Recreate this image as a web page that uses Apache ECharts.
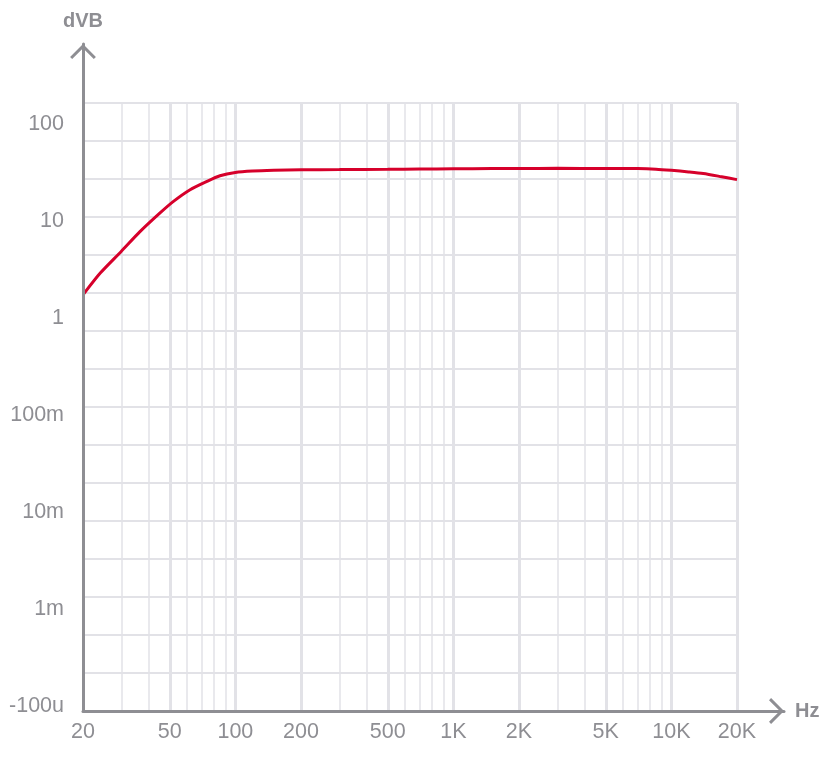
<!DOCTYPE html>
<html>
<head>
<meta charset="utf-8">
<script src="https://cdn.jsdelivr.net/npm/echarts@6/dist/echarts.min.js"></script>
<style>
html,body{margin:0;padding:0;background:#ffffff;}
#chart{width:838px;height:765px;}
</style>
</head>
<body>
<div id="chart"></div>
<script>
// ---- data ----
const freqHz  = [20, 24, 30, 36.5, 45, 52, 62, 74, 85, 100, 120, 150, 200, 300, 500, 700, 1000, 1500, 2000, 3000, 5000, 7000, 8500, 10000, 12000, 14000, 17000, 20000];
const gainDVB = [1.74, 2.92, 4.9, 7.8, 12.1, 16.0, 21.1, 25.7, 29.4, 31.8, 32.9, 33.5, 33.9, 34.0, 34.2, 34.4, 34.6, 34.8, 34.9, 35.0, 34.9, 34.8, 34.3, 33.4, 32.2, 31.0, 28.7, 26.8];

const yTickValues = [1e-4, 1e-3, 1e-2, 1e-1, 1, 10, 100];
const yTickLabels = ['-100u', '1m', '10m', '100m', '1', '10', '100'];

const xMajorValues = [20, 50, 100, 200, 500, 1000, 2000, 5000, 10000, 20000];
const xMajorLabels = ['20', '50', '100', '200', '500', '1K', '2K', '5K', '10K', '20K'];
const xMinorValues = [30, 40, 60, 70, 80, 90, 300, 400, 600, 700, 800, 900, 3000, 4000, 6000, 7000, 8000, 9000];

const hGridSteps = 16;
const xRange = [20, 20000];
const yRange = [9e-5, 165];

// ---- styles ----
const GRAY = '#8e8e93';
const GRID = '#e2e2e7';
const RED = '#d6002b';
const FONT = '"Liberation Sans", Arial, Helvetica, sans-serif';
const CHEVRON = 'path://M0,13L13,0L26,13L23.9,15.1L13,4.2L2.1,15.1Z';

const chart = echarts.init(document.getElementById('chart'), null, {renderer: 'canvas'});

const markItems = [];
xMinorValues.forEach(v => markItems.push({
  xAxis: v,
  lineStyle: {color: GRID, width: 1.5, type: 'solid'},
  label: {show: false}
}));
xMajorValues.forEach((v, i) => markItems.push({
  xAxis: v,
  name: xMajorLabels[i],
  lineStyle: {color: GRID, width: 3, type: 'solid'},
  label: {show: true}
}));

function yLabel(v) {
  const e = Math.log10(v);
  for (let i = 0; i < yTickValues.length; i++) {
    if (Math.abs(Math.log10(yTickValues[i]) - e) < 1e-3) return yTickLabels[i];
  }
  return '';
}

const option = {
  backgroundColor: '#ffffff',
  animation: false,
  grid: [
    {left: 83, top: 103, width: 654, height: 608, containLabel: false},
    {left: 83, top: 44, width: 701, height: 667, containLabel: false}
  ],
  xAxis: [
    {
      gridIndex: 0, type: 'log', logBase: 10, min: xRange[0], max: xRange[1],
      axisLine: {show: false}, axisTick: {show: false}, axisLabel: {show: false},
      splitLine: {show: false}
    },
    {
      gridIndex: 1, type: 'value', min: 0, max: 1, z: 20,
      axisLine: {show: true, lineStyle: {color: GRAY, width: 3},
        symbol: ['none', CHEVRON], symbolSize: [26, 15], symbolOffset: [0, -7.5]},
      axisTick: {show: false}, axisLabel: {show: false}, splitLine: {show: false},
      name: 'Hz', nameLocation: 'end', nameGap: 11,
      nameTextStyle: {color: GRAY, fontSize: 20, fontWeight: 'bold', fontFamily: FONT, verticalAlign: 'middle'}
    }
  ],
  yAxis: [
    {
      gridIndex: 0, type: 'log', logBase: 10, min: yRange[0], max: yRange[1],
      axisLine: {show: false}, axisTick: {show: false}, splitLine: {show: false},
      axisLabel: {show: true, formatter: yLabel, margin: 19, color: GRAY, fontSize: 21.5, fontFamily: FONT,
        showMinLabel: true, showMaxLabel: true}
    },
    {
      gridIndex: 0, type: 'value', min: 0, max: hGridSteps, interval: 1, position: 'right',
      axisLine: {show: false}, axisTick: {show: false}, axisLabel: {show: false},
      splitLine: {show: true, lineStyle: {color: GRID, width: 2}}
    },
    {
      gridIndex: 1, type: 'value', min: 0, max: 1, z: 20,
      axisLine: {show: true, lineStyle: {color: GRAY, width: 3},
        symbol: ['none', CHEVRON], symbolSize: [26, 15], symbolOffset: [0, -7.5]},
      axisTick: {show: false}, axisLabel: {show: false}, splitLine: {show: false},
      name: 'dVB', nameLocation: 'end', nameGap: 13,
      nameTextStyle: {color: GRAY, fontSize: 20, fontWeight: 'bold', fontFamily: FONT}
    }
  ],
  series: [
    {
      type: 'line', xAxisIndex: 0, yAxisIndex: 0, data: [], z: 1, silent: true,
      markLine: {
        silent: true, animation: false, symbol: ['none', 'none'],
        label: {show: true, position: 'start', formatter: '{b}', color: GRAY, fontSize: 21.5, fontFamily: FONT, distance: 10},
        emphasis: {disabled: true},
        data: markItems
      }
    },
    {
      type: 'line', xAxisIndex: 0, yAxisIndex: 0, z: 5,
      data: freqHz.map((f, i) => [f, gainDVB[i]]),
      showSymbol: false, smooth: 0.25,
      lineStyle: {color: RED, width: 3},
      itemStyle: {color: RED}
    }
  ]
};
chart.setOption(option);
</script>
</body>
</html>
